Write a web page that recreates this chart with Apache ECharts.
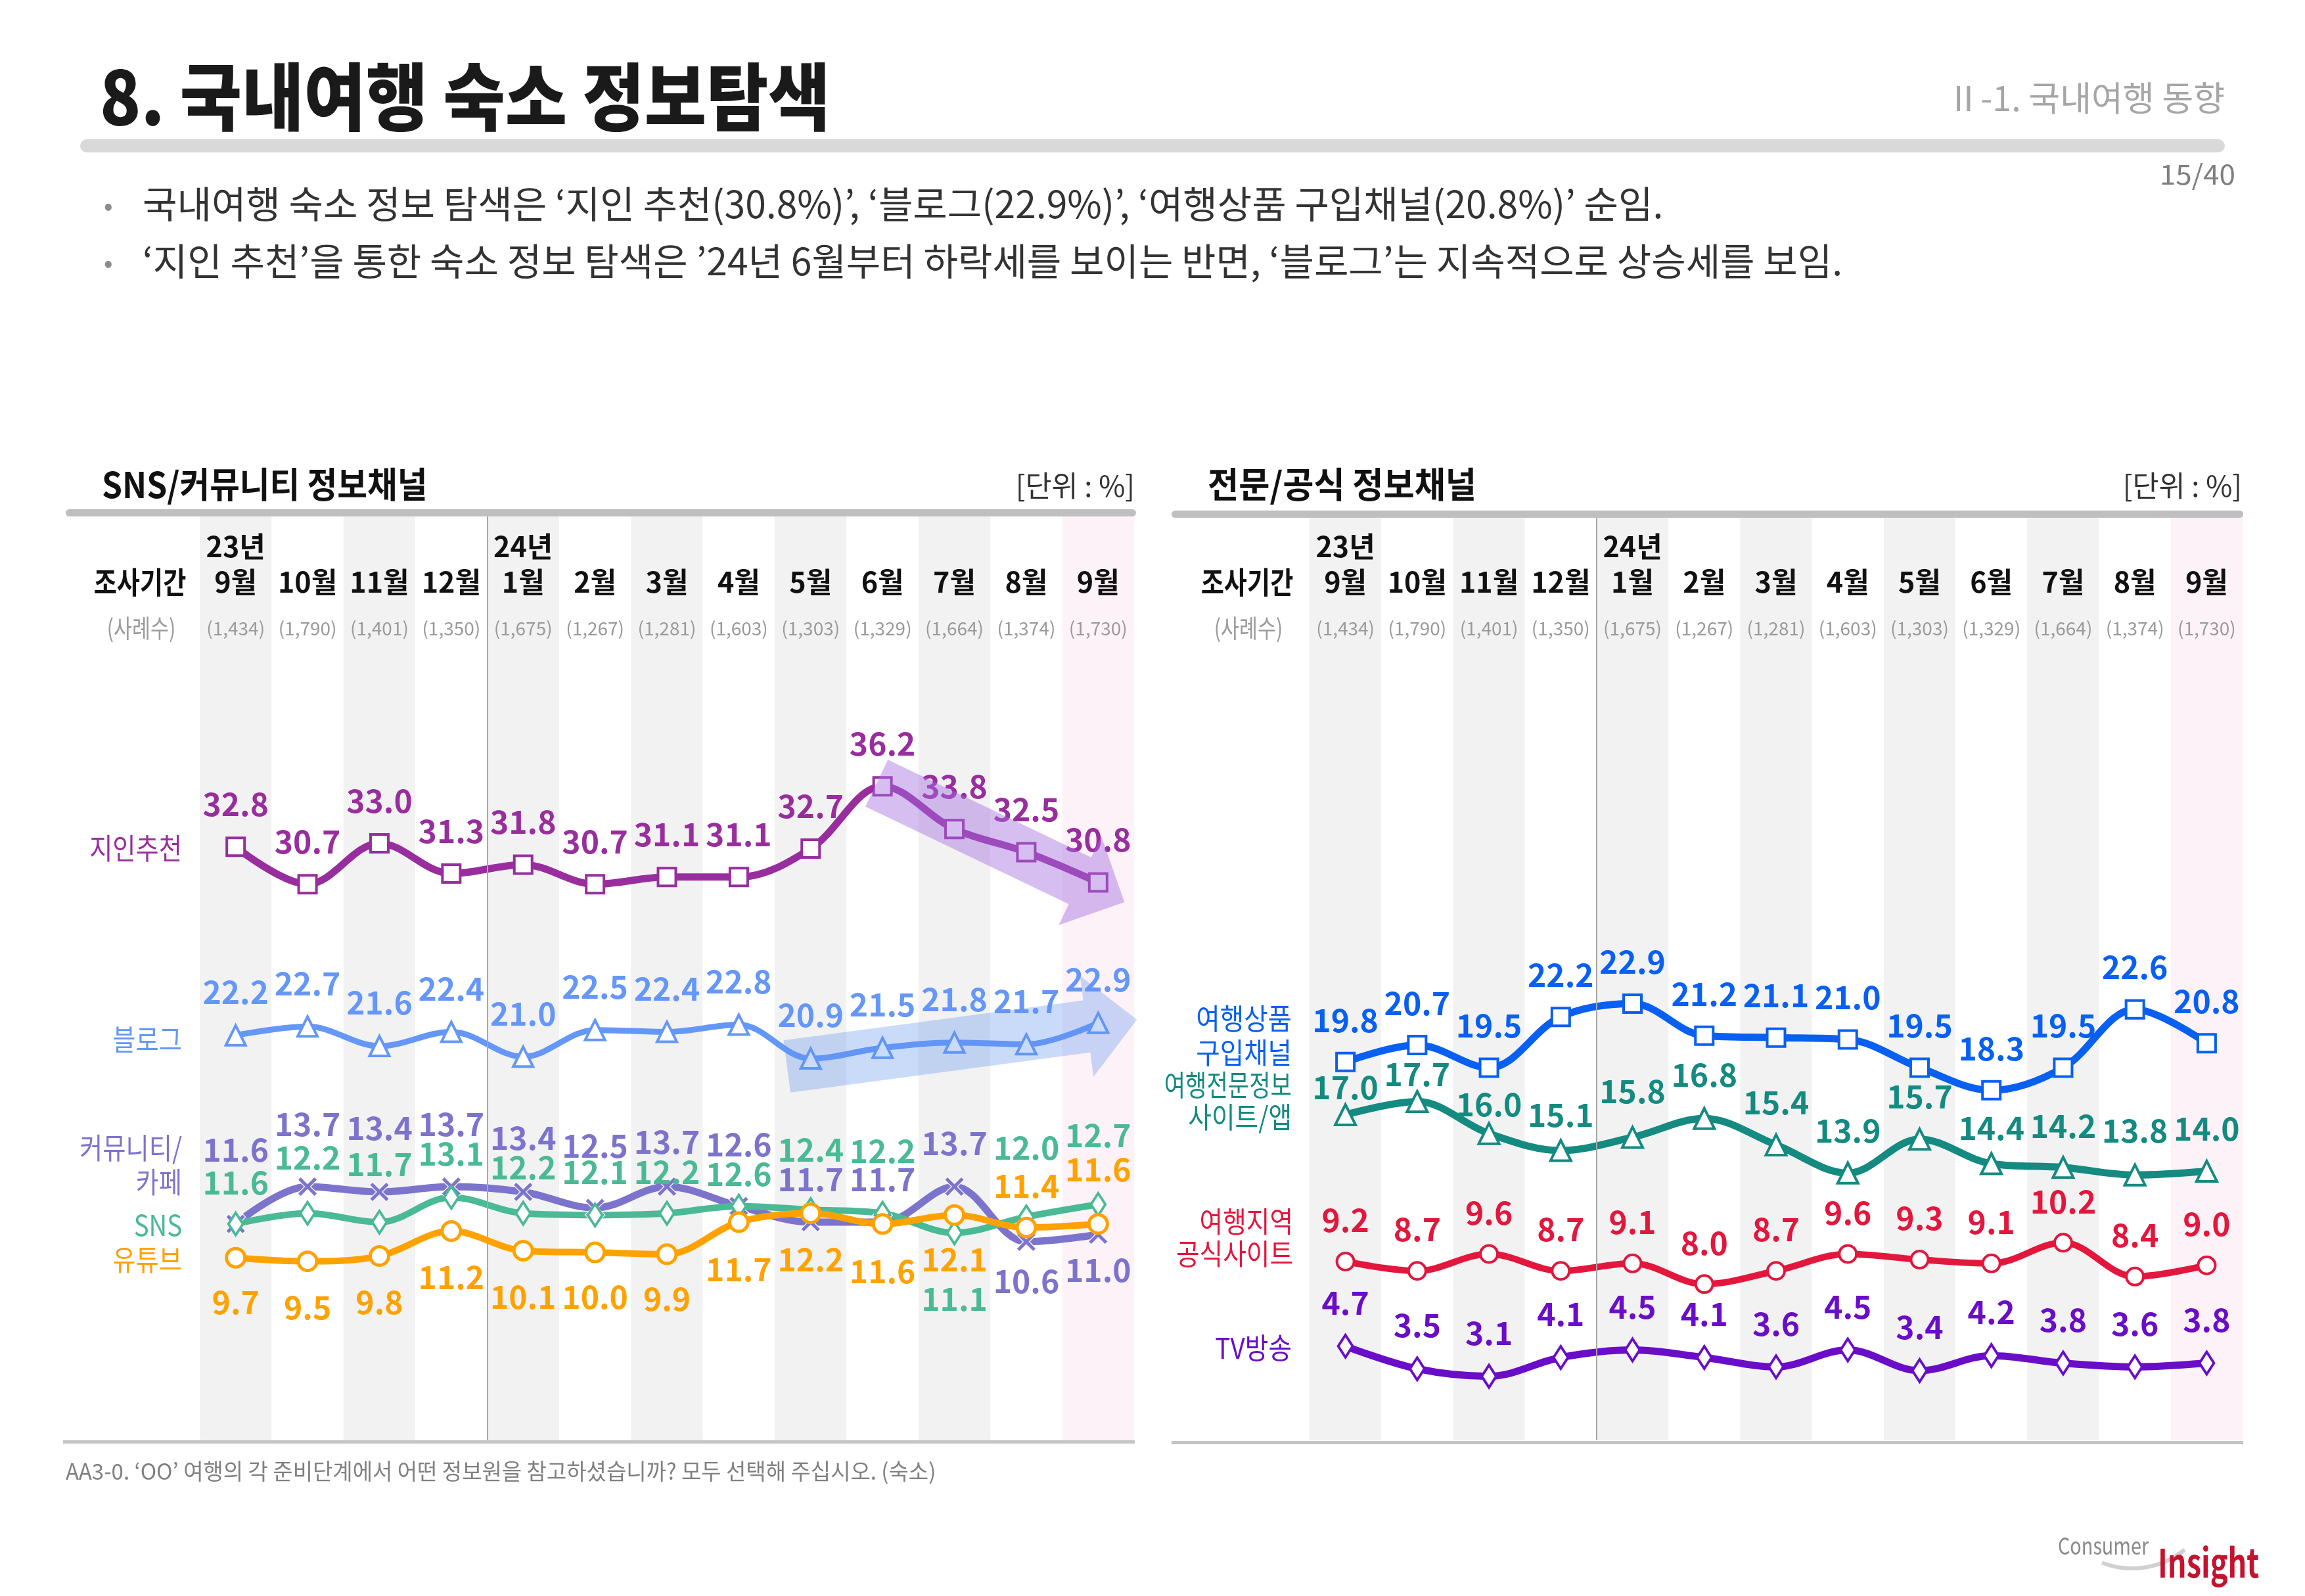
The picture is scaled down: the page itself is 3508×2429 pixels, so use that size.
<!DOCTYPE html>
<html><head><meta charset="utf-8">
<script src="https://cdn.jsdelivr.net/npm/echarts/dist/echarts.min.js"></script>
<style>html,body{margin:0;padding:0;background:#fff}#c{width:3508px;height:2429px}</style>
</head><body><div id="c"></div>
<script>
// ---------- data ----------
const months  = ['9월','10월','11월','12월','1월','2월','3월','4월','5월','6월','7월','8월','9월'];
const years   = ['23년','','','','24년','','','','','','','',''];
const samples = ['(1,434)','(1,790)','(1,401)','(1,350)','(1,675)','(1,267)','(1,281)','(1,603)','(1,303)','(1,329)','(1,664)','(1,374)','(1,730)'];

// SNS / community channels
const jiin      = [32.8,30.7,33.0,31.3,31.8,30.7,31.1,31.1,32.7,36.2,33.8,32.5,30.8];
const blog      = [22.2,22.7,21.6,22.4,21.0,22.5,22.4,22.8,20.9,21.5,21.8,21.7,22.9];
const community = [11.6,13.7,13.4,13.7,13.4,12.5,13.7,12.6,11.7,11.7,13.7,10.6,11.0];
const sns       = [11.6,12.2,11.7,13.1,12.2,12.1,12.2,12.6,12.4,12.2,11.1,12.0,12.7];
const youtube   = [9.7,9.5,9.8,11.2,10.1,10.0,9.9,11.7,12.2,11.6,12.1,11.4,11.6];

// professional / official channels
const product = [19.8,20.7,19.5,22.2,22.9,21.2,21.1,21.0,19.5,18.3,19.5,22.6,20.8];
const expert  = [17.0,17.7,16.0,15.1,15.8,16.8,15.4,13.9,15.7,14.4,14.2,13.8,14.0];
const region  = [9.2,8.7,9.6,8.7,9.1,8.0,8.7,9.6,9.3,9.1,10.2,8.4,9.0];
const tv      = [4.7,3.5,3.1,4.1,4.5,4.1,3.6,4.5,3.4,4.2,3.8,3.6,3.8];

// ---------- label layout (vertical pixel offsets of value labels) ----------
const dyJiin      = Array(13).fill(-65);
const dyBlog      = Array(13).fill(-66);
const dyCommunity = [-113,-95,-97,-95,-82,-95,-68,-94,-65,-65,-66,60,54];
const dySns       = [-63,-85,-88,-66,-70,-65,-63,-49,-91,-95,100,-105,-105];
const dyYoutube   = [68,70,70,70,70,68,68,72,70,72,68,-63,-83];
const dyProduct   = Array(13).fill(-64);
const dyExpert    = [-42,-42,-44,-54,-70,-67,-65,-65,-65,-54,-63,-67,-65];
const dyRegion    = Array(13).fill(-63);
const dyTv        = Array(13).fill(-66);

const FONT = '"Noto Sans CJK KR","Noto Sans",sans-serif';
const C = {
  jiin:'#982e9e', blog:'#6597f8', community:'#7c74cc', sns:'#4ab996', youtube:'#ffa200',
  product:'#0860f2', expert:'#148a80', region:'#e3173d', tv:'#6a0dc9'
};
const bandColors = ['#f2f2f2','#ffffff','#f2f2f2','#ffffff','#f2f2f2','#ffffff','#f2f2f2','#ffffff','#f2f2f2','#ffffff','#f2f2f2','#ffffff','#fdf2f7'];
const XMARK = 'path://M3,0 L10,7 L17,0 L20,3 L13,10 L20,17 L17,20 L10,13 L3,20 L0,17 L7,10 L0,3 Z';

function xAxes(gi){
  const base = {gridIndex:gi, type:'category', position:'top', boundaryGap:true,
    axisLine:{show:false}, axisTick:{show:false}, splitLine:{show:false}};
  return [
    Object.assign({}, base, {data:months,
      splitArea:{show:true, interval:0, areaStyle:{color:bandColors}},
      axisLabel:{show:true, inside:true, interval:0, margin:101, verticalAlign:'middle',
        color:'#111', fontSize:43, fontWeight:'bold', fontFamily:FONT}}),
    Object.assign({}, base, {data:years,
      axisLabel:{show:true, inside:true, interval:0, margin:47, verticalAlign:'middle',
        color:'#111', fontSize:43, fontWeight:'bold', fontFamily:FONT}}),
    Object.assign({}, base, {data:samples,
      axisLabel:{show:true, inside:true, interval:0, margin:171, verticalAlign:'middle',
        color:'#9a9a9a', fontSize:28, fontFamily:FONT}}),
    {gridIndex:gi, type:'value', min:0, max:13, show:false}
  ];
}

function lineSeries(name, vals, dys, color, symbol, size, gi, o){
  o = o || {};
  return {
    name, type:'line', xAxisIndex:gi*4, yAxisIndex:gi, smooth:0.35,
    symbol, symbolSize:size, showSymbol:true, showAllSymbol:true,
    lineStyle:{color, width:o.lw || 10},
    itemStyle:o.item || {color:'#fff', borderColor:color, borderWidth:4},
    emphasis:{disabled:true}, silent:true,
    label:{show:true, position:'inside', color, fontSize:48, fontWeight:'bold', fontFamily:FONT,
      textBorderWidth:0, textBorderColor:'transparent',
      formatter:p => Number(p.value).toFixed(1)},
    data:vals.map((v,i) => ({value:v, label:{offset:[0, dys[i]]}})),
    z:2
  };
}

function divider(gi){
  return {type:'line', xAxisIndex:gi*4+3, yAxisIndex:gi, data:[], silent:true,
    markLine:{symbol:['none','none'], silent:true, label:{show:false},
      lineStyle:{color:'#a8a8a8', width:2, type:'solid'}, data:[{xAxis:4}]}};
}

const chart = echarts.init(document.getElementById('c'), null, {renderer:'canvas'});
chart.setOption({
  animation:false,
  backgroundColor:'#ffffff',
  grid:[
    {left:304, right:1782, top:785, bottom:237, outerBoundsMode:'none'},
    {left:1993, right:95, top:785, bottom:237, outerBoundsMode:'none'}
  ],
  xAxis: xAxes(0).concat(xAxes(1)),
  yAxis:[
    {gridIndex:0, type:'value', min:-0.56, max:51.41, show:false},
    {gridIndex:1, type:'value', min:-0.30, max:48.83, show:false}
  ],
  series:[
    lineSeries('지인추천', jiin, dyJiin, C.jiin, 'rect', 27, 0, {lw:11}),
    lineSeries('블로그', blog, dyBlog, C.blog, 'triangle', 30, 0, {lw:9}),
    lineSeries('커뮤니티/카페', community, dyCommunity, C.community, XMARK, 30, 0,
      {lw:11, item:{color:C.community, borderColor:'rgba(255,255,255,0.85)', borderWidth:1.5}}),
    lineSeries('SNS', sns, dySns, C.sns, 'diamond', [22,34], 0, {lw:10}),
    lineSeries('유튜브', youtube, dyYoutube, C.youtube, 'circle', 28, 0, {lw:10, item:{color:'#fff', borderColor:C.youtube, borderWidth:5}}),
    lineSeries('여행상품 구입채널', product, dyProduct, C.product, 'rect', 27, 1, {lw:11}),
    lineSeries('여행전문정보 사이트/앱', expert, dyExpert, C.expert, 'triangle', 31, 1, {lw:11}),
    lineSeries('여행지역 공식사이트', region, dyRegion, C.region, 'circle', 26, 1, {lw:10, item:{color:'#fff', borderColor:C.region, borderWidth:4}}),
    lineSeries('TV방송', tv, dyTv, C.tv, 'diamond', [22,34], 1, {lw:11}),
    divider(0), divider(1)
  ]
});

// ---------- decorations / texts ----------
function txt(x, y, text, o){
  return {type:'text', x, y, scaleX:o.sx || 1, z:20, silent:true,
    style:{text, fill:o.c || '#333', font:(o.w || 'normal') + ' ' + o.s + 'px ' + FONT,
      align:o.a || 'left', verticalAlign:'middle'}};
}
function rect(x, y, w, h, fill, r){
  return {type:'rect', z:20, silent:true, shape:{x, y, width:w, height:h, r:r || 0}, style:{fill}};
}
function arrow(S, T, sw, hw, hl, fill){
  const dx = T[0]-S[0], dy = T[1]-S[1], L = Math.hypot(dx, dy);
  const d = [dx/L, dy/L], n = [-d[1], d[0]];
  const B = [T[0]-d[0]*hl, T[1]-d[1]*hl];
  const pt = (P, k) => [P[0]+n[0]*k, P[1]+n[1]*k];
  return {type:'polygon', z:30, silent:true,
    shape:{points:[pt(S,-sw/2), pt(B,-sw/2), pt(B,-hw/2), T, pt(B,hw/2), pt(B,sw/2), pt(S,sw/2)]},
    style:{fill}};
}
const P = (s, i, v) => chart.convertToPixel({seriesIndex:s}, [i, v]);
const a6 = P(0, 9, jiin[9]), a9 = P(0, 12, jiin[12]);
const b5 = P(1, 8, blog[8]), b9 = P(1, 12, blog[12]);

const G = [
  txt(152, 147, '8. 국내여행 숙소 정보탐색', {s:112, w:'900', c:'#1a1a1a', sx:0.915}),
  txt(3386, 149, 'Ⅱ-1. 국내여행 동향', {s:52, c:'#a6a6a6', a:'right', sx:1.0}),
  rect(122, 212, 3264, 20, '#d9d9d9', 10),
  txt(3402, 265, '15/40', {s:42, c:'#7f7f7f', a:'right', sx:1.05}),
  txt(158, 312, '•', {s:40, c:'#8c8c8c'}),
  txt(217, 310, '국내여행 숙소 정보 탐색은 ‘지인 추천(30.8%)’, ‘블로그(22.9%)’, ‘여행상품 구입채널(20.8%)’ 순임.', {s:57, c:'#333'}),
  txt(158, 399, '•', {s:40, c:'#8c8c8c'}),
  txt(217, 397, '‘지인 추천’을 통한 숙소 정보 탐색은 ’24년 6월부터 하락세를 보이는 반면, ‘블로그’는 지속적으로 상승세를 보임.', {s:57, c:'#333'}),

  // left panel frame
  txt(155, 737, 'SNS/커뮤니티 정보채널', {s:54, w:'bold', c:'#111', sx:0.92}),
  txt(1727, 739, '[단위 : %]', {s:44, c:'#333', a:'right', sx:0.99}),
  rect(100, 775, 1629, 11, '#bfbfbf', 5.5),
  rect(96, 2192, 1631, 5, '#c4c4c4', 0),
  txt(213, 886, '조사기간', {s:46, w:'bold', c:'#111', a:'center', sx:0.83}),
  txt(215, 956, '(사례수)', {s:38, c:'#9a9a9a', a:'center', sx:0.8}),
  txt(277, 1291, '지인추천', {s:44, c:C.jiin, a:'right', sx:0.87}),
  txt(277, 1582, '블로그', {s:44, c:C.blog, a:'right', sx:0.87}),
  txt(277, 1747, '커뮤니티/', {s:44, c:C.community, a:'right', sx:0.87}),
  txt(277, 1799, '카페', {s:44, c:C.community, a:'right', sx:0.87}),
  txt(277, 1864, 'SNS', {s:44, c:C.sns, a:'right', sx:0.87}),
  txt(277, 1917, '유튜브', {s:44, c:C.youtube, a:'right', sx:0.87}),

  // right panel frame
  txt(1838, 737, '전문/공식 정보채널', {s:54, w:'bold', c:'#111', sx:0.95}),
  txt(3412, 739, '[단위 : %]', {s:44, c:'#333', a:'right', sx:0.99}),
  rect(1783, 777, 1631, 11, '#bfbfbf', 5.5),
  rect(1783, 2193, 1631, 5, '#c4c4c4', 0),
  txt(1898, 886, '조사기간', {s:46, w:'bold', c:'#111', a:'center', sx:0.83}),
  txt(1900, 956, '(사례수)', {s:38, c:'#9a9a9a', a:'center', sx:0.8}),
  txt(1966, 1550, '여행상품', {s:44, c:C.product, a:'right', sx:0.9}),
  txt(1966, 1602, '구입채널', {s:44, c:C.product, a:'right', sx:0.9}),
  txt(1966, 1651, '여행전문정보', {s:44, c:C.expert, a:'right', sx:0.8}),
  txt(1966, 1700, '사이트/앱', {s:44, c:C.expert, a:'right', sx:0.88}),
  txt(1968, 1859, '여행지역', {s:44, c:C.region, a:'right', sx:0.88}),
  txt(1968, 1908, '공식사이트', {s:44, c:C.region, a:'right', sx:0.88}),
  txt(1966, 2051, 'TV방송', {s:44, c:C.tv, a:'right', sx:0.88}),

  // footer
  txt(100, 2239, 'AA3-0. ‘OO’ 여행의 각 준비단계에서 어떤 정보원을 참고하셨습니까? 모두 선택해 주십시오. (숙소)', {s:34, c:'#808080', sx:0.97}),
  {type:'arc', z:19, silent:true, shape:{cx:3245, cy:2262, r:125, startAngle:Math.PI*0.28, endAngle:Math.PI*0.62},
    style:{stroke:'#d0d0d0', lineWidth:6, fill:null}},
  txt(3132, 2352, 'Consumer', {s:36, c:'#8a8a8a', sx:0.8}),
  txt(3284, 2378, 'Insight', {s:60, w:'bold', c:'#c4122f', sx:0.75}),

  // trend arrows
  arrow([a6[0]-9, a6[1]-5], [a9[0]+40, a9[1]+30], 79, 150, 75, 'rgba(165,110,225,0.45)'),
  arrow([b5[0]-36, b5[1]+12], [b9[0]+59, b9[1]-5], 80, 155, 77, 'rgba(95,145,240,0.33)')
];
chart.setOption({graphic:G});
</script>
</body></html>
